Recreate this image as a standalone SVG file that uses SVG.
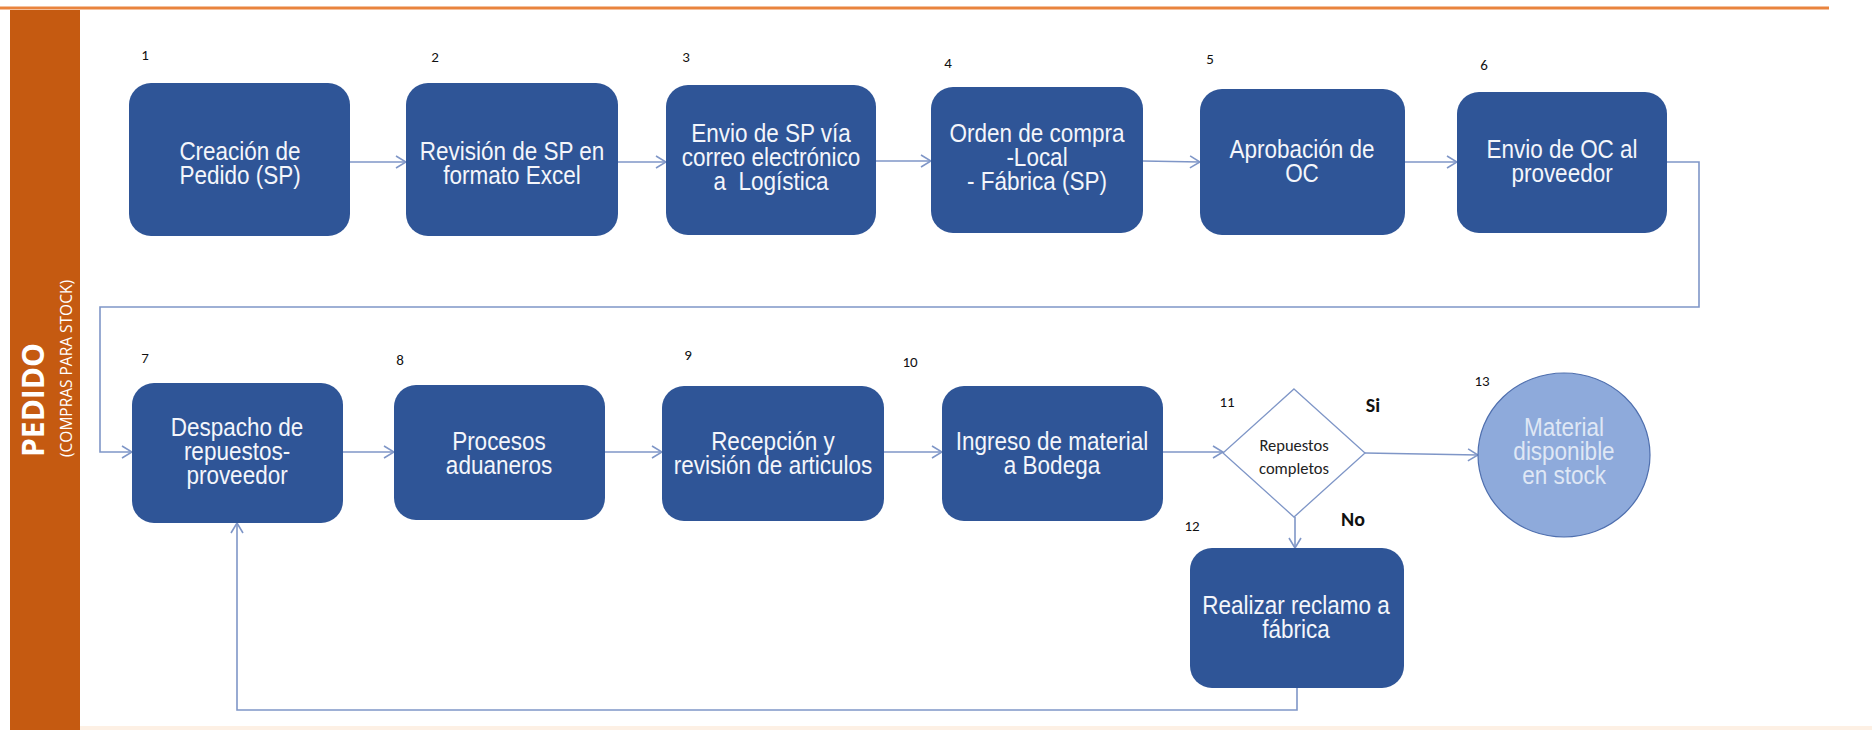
<svg xmlns="http://www.w3.org/2000/svg" width="1872" height="730" viewBox="0 0 1872 730">
  <defs>
    <style>
      .box { fill: #2f5597; }
      .lbl { font-family: "Liberation Sans", Arial, sans-serif; font-size: 25px; fill: #f4f6fb; text-anchor: middle; }
      .lt { fill: #dfe7f5; }
      .num { font-family: Carlito, Lato, "Open Sans", sans-serif; font-size: 15px; fill: #111; text-anchor: middle; }
      .yn { font-family: Carlito, Lato, "Open Sans", sans-serif; font-size: 20px; font-weight: bold; fill: #111; text-anchor: middle; }
      .dtxt { font-family: Carlito, Lato, "Open Sans", sans-serif; font-size: 16.5px; fill: #222; text-anchor: middle; }
      .conn { fill: none; stroke: #7f96c7; stroke-width: 1.6; }
    </style>
    <marker id="arrow" viewBox="0 0 12 14" refX="11" refY="7" markerWidth="12" markerHeight="14" markerUnits="userSpaceOnUse" orient="auto">
      <path d="M1,1 L11,7 L1,13" fill="none" stroke="#7f96c7" stroke-width="1.6"/>
    </marker>
  </defs>

  <rect width="1872" height="730" fill="#ffffff"/>

  <!-- lane header -->
  <g id="lane">
    <line x1="0" y1="8" x2="1829" y2="8" stroke="#e9843e" stroke-width="3"/>
    <rect x="10" y="10" width="70" height="720" fill="#c55a11"/>
    <rect x="80" y="726" width="1792" height="4" fill="#fdf0e4"/>
    <text transform="translate(44,457) rotate(-90)" font-family="'Open Sans', 'Liberation Sans', sans-serif" font-size="30" font-weight="bold" fill="#ffffff">PEDIDO</text>
    <text transform="translate(72,457) rotate(-90)" font-family="'Open Sans', 'Liberation Sans', sans-serif" font-size="15.5" fill="#ffffff">(COMPRAS PARA STOCK)</text>
  </g>

  <!-- connectors -->
  <g id="connectors">
    <path class="conn" d="M350,162 L406,162" marker-end="url(#arrow)"/>
    <path class="conn" d="M618,162 L666,162" marker-end="url(#arrow)"/>
    <path class="conn" d="M876,161 L931,161" marker-end="url(#arrow)"/>
    <path class="conn" d="M1143,161 L1200,162" marker-end="url(#arrow)"/>
    <path class="conn" d="M1405,162 L1457,162" marker-end="url(#arrow)"/>
    <path class="conn" d="M1667,162 L1699,162 L1699,307 L100,307 L100,452 L132,452" marker-end="url(#arrow)"/>
    <path class="conn" d="M343,452 L394,452" marker-end="url(#arrow)"/>
    <path class="conn" d="M605,452 L662,452" marker-end="url(#arrow)"/>
    <path class="conn" d="M884,452 L942,452" marker-end="url(#arrow)"/>
    <path class="conn" d="M1163,452 L1223,452" marker-end="url(#arrow)"/>
    <path class="conn" d="M1365,453 L1478,455" marker-end="url(#arrow)"/>
    <path class="conn" d="M1295,517 L1295,548" marker-end="url(#arrow)"/>
    <path class="conn" d="M1297,688 L1297,710 L237,710 L237,523" marker-end="url(#arrow)"/>
  </g>

  <!-- process steps; labels use a condensed horizontal scale -->
  <g id="n1">
    <rect class="box" x="129" y="83" width="221" height="153" rx="22"/>
    <text class="num" x="145" y="60">1</text>
    <g transform="translate(240,0) scale(0.9,1)">
      <text class="lbl" x="0" y="160">Creación de</text>
      <text class="lbl" x="0" y="184">Pedido (SP)</text>
    </g>
  </g>
  <g id="n2">
    <rect class="box" x="406" y="83" width="212" height="153" rx="22"/>
    <text class="num" x="435" y="62">2</text>
    <g transform="translate(512,0) scale(0.9,1)">
      <text class="lbl" x="0" y="160">Revisión de SP en</text>
      <text class="lbl" x="0" y="184">formato Excel</text>
    </g>
  </g>
  <g id="n3">
    <rect class="box" x="666" y="85" width="210" height="150" rx="22"/>
    <text class="num" x="686" y="62">3</text>
    <g transform="translate(771,0) scale(0.9,1)">
      <text class="lbl" x="0" y="142">Envio de SP vía</text>
      <text class="lbl" x="0" y="166">correo electrónico</text>
      <text class="lbl" x="0" y="190">a&#160; Logística</text>
    </g>
  </g>
  <g id="n4">
    <rect class="box" x="931" y="87" width="212" height="146" rx="22"/>
    <text class="num" x="948" y="68">4</text>
    <g transform="translate(1037,0) scale(0.9,1)">
      <text class="lbl" x="0" y="142">Orden de compra</text>
      <text class="lbl" x="0" y="166">-Local</text>
      <text class="lbl" x="0" y="190">- Fábrica (SP)</text>
    </g>
  </g>
  <g id="n5">
    <rect class="box" x="1200" y="89" width="205" height="146" rx="22"/>
    <text class="num" x="1210" y="64">5</text>
    <g transform="translate(1302,0) scale(0.9,1)">
      <text class="lbl" x="0" y="158">Aprobación de</text>
      <text class="lbl" x="0" y="182">OC</text>
    </g>
  </g>
  <g id="n6">
    <rect class="box" x="1457" y="92" width="210" height="141" rx="22"/>
    <text class="num" x="1484" y="70">6</text>
    <g transform="translate(1562,0) scale(0.9,1)">
      <text class="lbl" x="0" y="158">Envio de OC al</text>
      <text class="lbl" x="0" y="182">proveedor</text>
    </g>
  </g>
  <g id="n7">
    <rect class="box" x="132" y="383" width="211" height="140" rx="22"/>
    <text class="num" x="145" y="363">7</text>
    <g transform="translate(237,0) scale(0.9,1)">
      <text class="lbl" x="0" y="436">Despacho de</text>
      <text class="lbl" x="0" y="460">repuestos-</text>
      <text class="lbl" x="0" y="484">proveedor</text>
    </g>
  </g>
  <g id="n8">
    <rect class="box" x="394" y="385" width="211" height="135" rx="22"/>
    <text class="num" x="400" y="365">8</text>
    <g transform="translate(499,0) scale(0.9,1)">
      <text class="lbl" x="0" y="450">Procesos</text>
      <text class="lbl" x="0" y="474">aduaneros</text>
    </g>
  </g>
  <g id="n9">
    <rect class="box" x="662" y="386" width="222" height="135" rx="22"/>
    <text class="num" x="688" y="360">9</text>
    <g transform="translate(773,0) scale(0.9,1)">
      <text class="lbl" x="0" y="450">Recepción y</text>
      <text class="lbl" x="0" y="474">revisión de articulos</text>
    </g>
  </g>
  <g id="n10">
    <rect class="box" x="942" y="386" width="221" height="135" rx="22"/>
    <text class="num" x="910" y="367">10</text>
    <g transform="translate(1052,0) scale(0.9,1)">
      <text class="lbl" x="0" y="450">Ingreso de material</text>
      <text class="lbl" x="0" y="474">a Bodega</text>
    </g>
  </g>
  <g id="n11">
    <polygon points="1294,389 1365,453 1294,517 1223,453" fill="#ffffff" stroke="#7f96c7" stroke-width="1.3"/>
    <text class="num" x="1227" y="407">11</text>
    <text class="dtxt" x="1294" y="451">Repuestos</text>
    <text class="dtxt" x="1294" y="474">completos</text>
    <text class="yn" x="1373" y="412">Si</text>
    <text class="yn" x="1353" y="526">No</text>
  </g>
  <g id="n12">
    <rect class="box" x="1190" y="548" width="214" height="140" rx="22"/>
    <text class="num" x="1192" y="531">12</text>
    <g transform="translate(1296,0) scale(0.9,1)">
      <text class="lbl" x="0" y="614">Realizar reclamo a</text>
      <text class="lbl" x="0" y="638">fábrica</text>
    </g>
  </g>
  <g id="n13">
    <ellipse cx="1564" cy="455" rx="86" ry="82" fill="#8eaadb" stroke="#4f6fae" stroke-width="1.2"/>
    <text class="num" x="1482" y="386">13</text>
    <g transform="translate(1564,0) scale(0.9,1)">
      <text class="lbl lt" x="0" y="436">Material</text>
      <text class="lbl lt" x="0" y="460">disponible</text>
      <text class="lbl lt" x="0" y="484">en stock</text>
    </g>
  </g>
</svg>
